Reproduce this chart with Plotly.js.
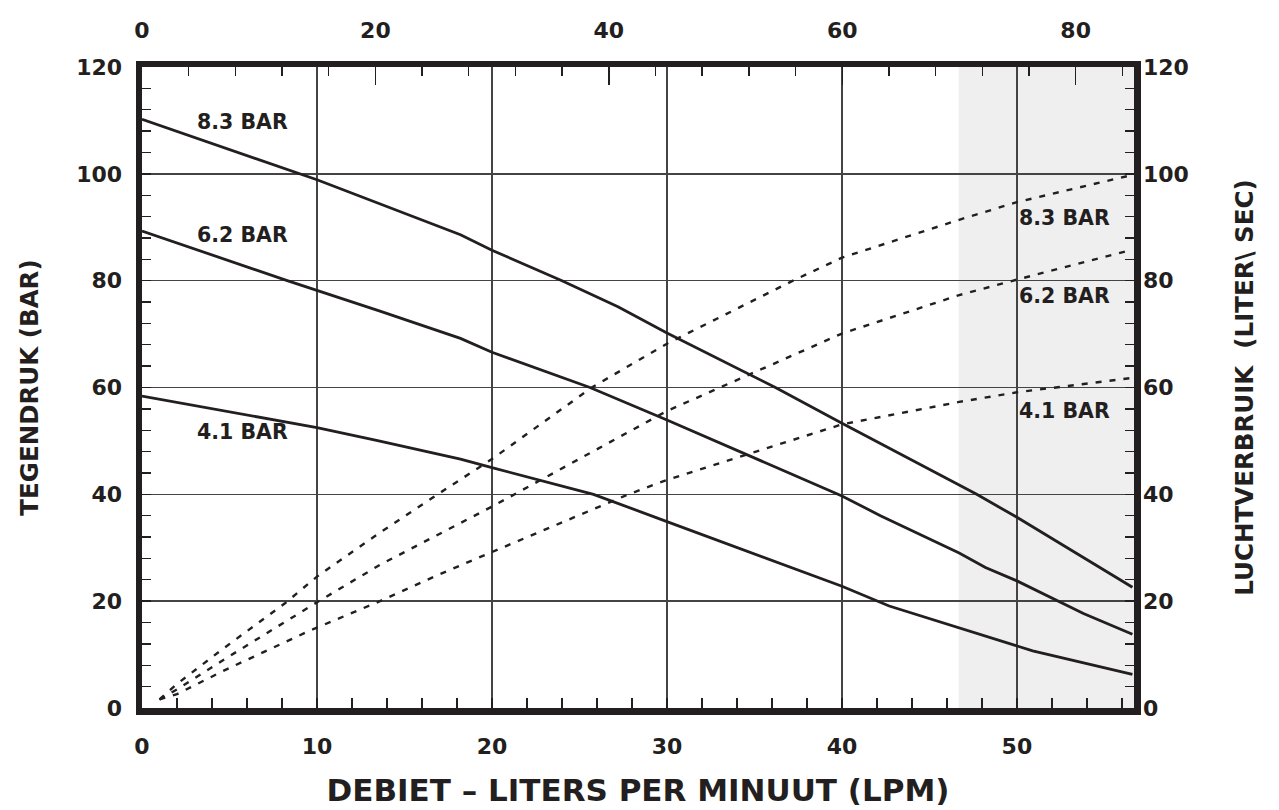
<!DOCTYPE html>
<html>
<head>
<meta charset="utf-8">
<script src="https://cdn.plot.ly/plotly-3.0.1.min.js"></script>
<style>
  html, body { margin: 0; padding: 0; background: #ffffff; }
  #chart { width: 1279px; height: 810px; }
</style>
</head>
<body>
<div id="chart"></div>
<script>
// Back pressure (TEGENDRUK, bar) vs flow (LPM) — solid curves
var lpm83 = [0, 10, 18.2, 20, 24, 27.2, 30, 36.2, 40, 42.2, 47.7, 50, 56.6];
var bar83 = [110.2, 98.9, 88.6, 85.7, 80, 75.1, 70.2, 60, 53.3, 49.5, 40, 35.7, 22.6];

var lpm62 = [0, 8.3, 13.6, 18.2, 20, 25.6, 30, 40, 42.2, 46.7, 48.2, 50, 53.8, 56.6];
var bar62 = [89.3, 80, 74.3, 69.2, 66.6, 60, 53.9, 39.7, 36.0, 29.0, 26.3, 23.8, 17.7, 13.8];

var lpm41 = [0, 10, 13.4, 18.2, 20, 25.8, 30, 40, 42.7, 45.5, 50.9, 56.6];
var bar41 = [58.4, 52.5, 50.1, 46.6, 45.0, 40, 34.9, 22.8, 19.1, 16.2, 10.7, 6.3];

// Air consumption (LUCHTVERBRUIK, liter/sec) vs flow — dashed curves
var airLpm83 = [1, 2, 4.55, 8.17, 10, 13.4, 16.9, 20, 25.7, 30, 37.2, 40, 46.7, 50, 56.6];
var air83    = [1.6, 4.5, 10.9, 19.6, 24.6, 32.4, 40, 46.6, 60, 68.2, 80, 84.3, 91.4, 94.7, 99.8];

var airLpm62 = [1, 2, 4.8, 10, 13.6, 20, 30, 40, 46.7, 50, 56.6];
var air62    = [1.6, 3.5, 9.3, 19.8, 26.8, 37.7, 55.6, 70.1, 77.3, 80.2, 85.8];

var airLpm41 = [1, 2, 4.74, 9.6, 13.6, 16.7, 20, 27.8, 30, 40, 46.7, 50, 56.6];
var air41    = [1.6, 2.6, 7.1, 14.5, 20, 24.6, 29.2, 40, 42.7, 53.1, 57.3, 59.1, 61.8];

// Axis ranges and labels
var lpmRange = [0, 56.69];
var topRange = [0, 85];
var yRange = [0, 120];
var shadeStart = 46.67;

var leftLabels = ['8.3 BAR', '6.2 BAR', '4.1 BAR'];
var leftLabelX = 5.74;
var leftLabelY = [109.7, 88.5, 51.6];
var rightLabels = ['8.3 BAR', '6.2 BAR', '4.1 BAR'];
var rightLabelX = 52.74;
var rightLabelY = [91.7, 77.1, 55.6];

var xTitle = 'DEBIET – LITERS PER MINUUT (LPM)';
var yTitle = 'TEGENDRUK (BAR)';
var y2Title = 'LUCHTVERBRUIK  (LITER\\ SEC)';

var ink = '#231f20';
var fam = '"DejaVu Sans", "Open Sans", sans-serif';

function solid(x, y) {
  return {x: x, y: y, xaxis: 'x', yaxis: 'y', mode: 'lines', type: 'scatter',
          line: {color: ink, width: 2.8}, hoverinfo: 'skip', showlegend: false};
}
function dashed(x, y) {
  return {x: x, y: y, xaxis: 'x', yaxis: 'y2', mode: 'lines', type: 'scatter',
          line: {color: ink, width: 2.4, dash: '6px,8px'}, hoverinfo: 'skip', showlegend: false};
}

var traces = [
  solid(lpm83, bar83), solid(lpm62, bar62), solid(lpm41, bar41),
  dashed(airLpm83, air83), dashed(airLpm62, air62), dashed(airLpm41, air41),
  {x: topRange, y: [null, null], xaxis: 'x2', yaxis: 'y', mode: 'lines', type: 'scatter',
   hoverinfo: 'skip', showlegend: false}
];

var labelFont = {family: fam, size: 20.5, color: ink, weight: 'bold'};
var annotations = [];
leftLabels.forEach(function (t, i) {
  annotations.push({x: leftLabelX, y: leftLabelY[i], xref: 'x', yref: 'y', text: t,
    showarrow: false, xanchor: 'center', yanchor: 'middle', font: labelFont});
});
rightLabels.forEach(function (t, i) {
  annotations.push({x: rightLabelX, y: rightLabelY[i], xref: 'x', yref: 'y', text: t,
    showarrow: false, xanchor: 'center', yanchor: 'middle', font: labelFont});
});

var tickFont = {family: fam, size: 22, color: ink, weight: 'bold'};
var xTitleFont = {family: fam, size: 31, color: ink, weight: 'bold'};
var yTitleFont = {family: fam, size: 24.5, color: ink, weight: 'bold'};

var layout = {
  width: 1279, height: 810,
  margin: {l: 142, r: 145, t: 67, b: 102, pad: 0},
  paper_bgcolor: '#ffffff', plot_bgcolor: '#ffffff',
  showlegend: false,
  xaxis: {
    range: lpmRange, dtick: 10, tick0: 0, showgrid: true, gridcolor: '#444444', gridwidth: 1.4,
    zeroline: false, showline: true, linecolor: ink, linewidth: 6.5, mirror: true,
    ticks: 'inside', ticklen: 10, tickwidth: 1.4, tickcolor: ink,
    minor: {dtick: 2, tick0: 0, ticks: 'inside', ticklen: 10, tickwidth: 1.4, tickcolor: ink, showgrid: false},
    tickfont: tickFont, ticklabelstandoff: 13,
    title: {text: xTitle, font: xTitleFont, standoff: 24},
    fixedrange: true
  },
  xaxis2: {
    range: topRange, overlaying: 'x', side: 'top', anchor: 'y', dtick: 20, tick0: 0,
    showgrid: false, zeroline: false, showline: false,
    ticks: 'inside', ticklen: 18, tickwidth: 1.4, tickcolor: ink,
    minor: {dtick: 4, tick0: 0, ticks: 'inside', ticklen: 9, tickwidth: 1.4, tickcolor: ink, showgrid: false},
    tickfont: tickFont, ticklabelstandoff: 24,
    fixedrange: true
  },
  yaxis: {
    range: yRange, dtick: 20, tick0: 0, showgrid: true, gridcolor: '#444444', gridwidth: 1.4,
    zeroline: false, showline: true, linecolor: ink, linewidth: 6.5, mirror: true,
    ticks: 'inside', ticklen: 9, tickwidth: 1.4, tickcolor: ink,
    minor: {dtick: 4, tick0: 0, ticks: 'inside', ticklen: 9, tickwidth: 1.4, tickcolor: ink, showgrid: false},
    tickfont: tickFont, ticklabelstandoff: 9,
    title: {text: yTitle, font: yTitleFont, standoff: 33},
    fixedrange: true
  },
  yaxis2: {
    range: yRange, overlaying: 'y', side: 'right', anchor: 'x', dtick: 20, tick0: 0,
    showgrid: false, zeroline: false, showline: false,
    ticks: 'inside', ticklen: 9, tickwidth: 1.4, tickcolor: ink,
    minor: {dtick: 4, tick0: 0, ticks: 'inside', ticklen: 9, tickwidth: 1.4, tickcolor: ink, showgrid: false},
    tickfont: tickFont, ticklabelstandoff: 8,
    title: {text: y2Title, font: yTitleFont, standoff: 47},
    fixedrange: true
  },
  shapes: [{
    type: 'rect', xref: 'x', yref: 'paper', x0: shadeStart, x1: lpmRange[1], y0: 0, y1: 1,
    fillcolor: '#efefef', line: {width: 0}, layer: 'below'
  }],
  annotations: annotations
};

Plotly.newPlot('chart', traces, layout, {displayModeBar: false, staticPlot: true});
</script>
</body>
</html>
